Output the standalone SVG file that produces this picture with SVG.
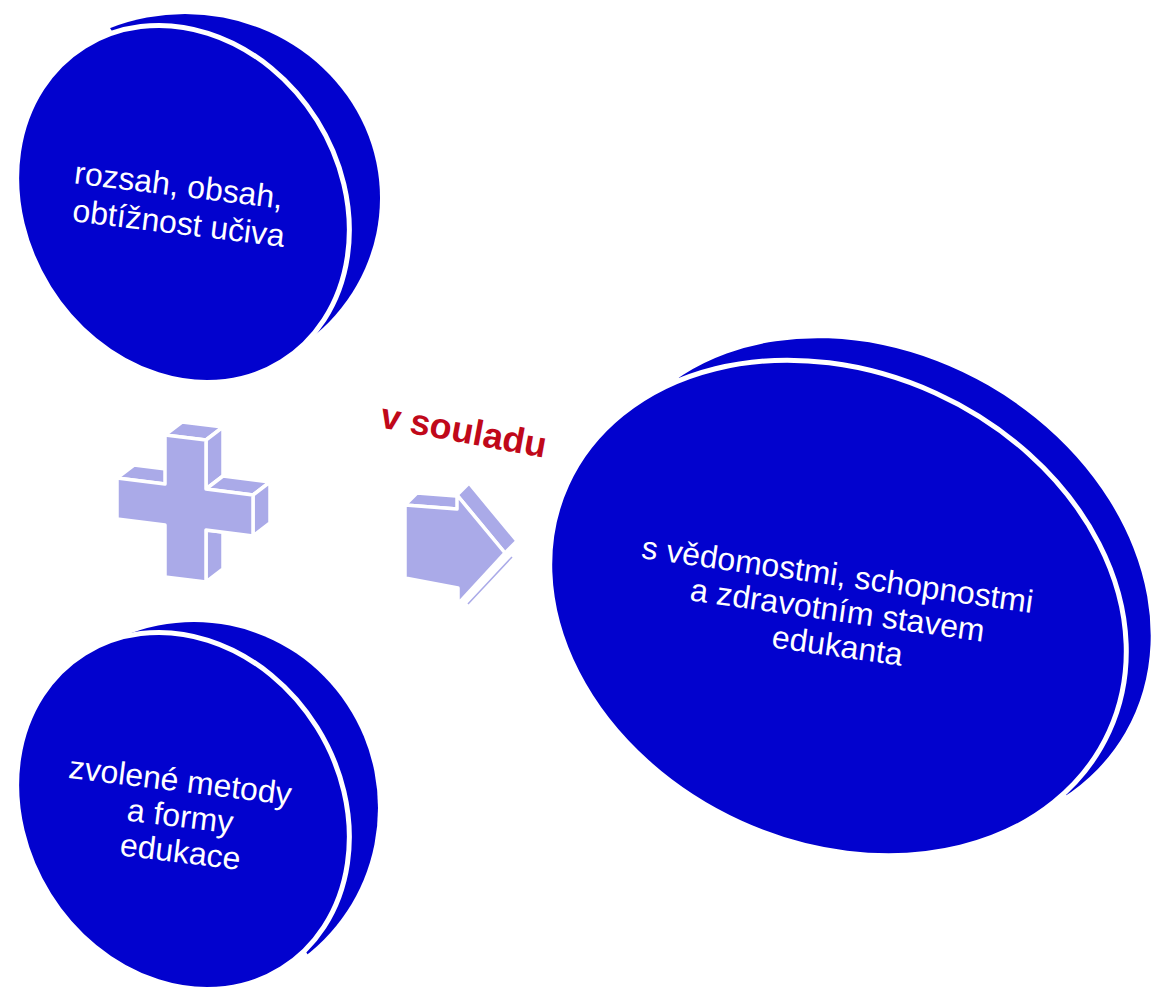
<svg xmlns="http://www.w3.org/2000/svg" width="1158" height="990" viewBox="0 0 1158 990">
  <defs>
    <clipPath id="clip-top"><polygon points="11,-129 506,656 600,656 600,-129"/></clipPath>
    <clipPath id="clip-bottom"><polygon points="11,487 506,1267 600,1267 600,400 11,400"/></clipPath>
    <clipPath id="clip-right"><polygon points="446.8,127.8 1298.2,1045.2 1400,1045.2 1400,-100 446.8,-100"/></clipPath>
  </defs>
  <style>
    .disc { fill: #0202CE; }
    .face { fill: #0202CE; stroke: #FFFFFF; stroke-width: 5; }
    .lbl { font-family: "Liberation Sans", Arial, sans-serif; font-size: 32px; fill: #FFFFFF; text-anchor: middle; }
    .sym { fill: #AAAAE8; stroke: #FFFFFF; stroke-width: 3.5; stroke-linejoin: round; }
    .red { font-family: "Liberation Sans", Arial, sans-serif; font-size: 36px; font-weight: bold; fill: #C0081A; text-anchor: middle; }
  </style>
  <rect width="1158" height="990" fill="#FFFFFF"/>

  <g id="node-top">
    <ellipse class="disc" cx="185" cy="198" rx="195" ry="184" clip-path="url(#clip-top)"/>
    <ellipse class="face" cx="183" cy="204" rx="186" ry="158" transform="rotate(58 183 204)"/>
    <text class="lbl" transform="translate(177.5,196) rotate(7)"><tspan x="0" y="0">rozsah, obsah,</tspan><tspan x="4.6" y="37.7">obtížnost učiva</tspan></text>
  </g>

  <g id="node-bottom">
    <ellipse class="disc" cx="194" cy="808" rx="184" ry="186" clip-path="url(#clip-bottom)"/>
    <ellipse class="face" cx="183" cy="811" rx="186" ry="158" transform="rotate(58 183 811)"/>
    <text class="lbl" transform="translate(179,791.5) rotate(7)"><tspan x="0" y="0">zvolené metody</tspan><tspan x="4.3" y="35.2">a formy</tspan><tspan x="8.7" y="70.5">edukace</tspan></text>
  </g>

  <g id="node-right">
    <g clip-path="url(#clip-right)">
      <ellipse class="disc" cx="872.5" cy="586.5" rx="292" ry="232" transform="rotate(30 872.5 586.5)"/>
    </g>
    <ellipse class="face" cx="838" cy="608" rx="298" ry="236" transform="rotate(24.5 838 608)"/>
    <text class="lbl" transform="translate(836,585.5) rotate(8)"><tspan x="0" y="0">s vědomostmi, schopnostmi</tspan><tspan x="4.9" y="35.2">a zdravotním stavem</tspan><tspan x="9.9" y="70.3">edukanta</tspan></text>
  </g>

  <g id="plus">
    <polygon class="sym" points="117,478 165,484 182,471 134,465"/>
    <polygon class="sym" points="165,435 206,440 223,427 182,422"/>
    <polygon class="sym" points="206,440 223,427 223,476 206,489"/>
    <polygon class="sym" points="206,489 253,495 270,482 223,476"/>
    <polygon class="sym" points="253,495 270,482 270,523 253,536"/>
    <polygon class="sym" points="206,530 223,532 223,569 206,582"/>
    <polygon class="sym" points="165,435 206,440 206,489 253,495 253,536 206,530 206,582 165,577 165,525 117,519 117,478 165,484"/>
  </g>

  <g id="connectors">
    <g id="arrow">
      <polygon class="sym" points="405,505 457,509 469,497 417,493"/>
      <polygon class="sym" points="457,495 505,553 517,541 469,483"/>
      <line x1="512" y1="557" x2="468" y2="604" stroke="#AAAAE8" stroke-width="1.5"/>
      <polygon class="sym" points="405,505 457,509 457,495 505,553 458,604 458,588 405,578"/>
    </g>
    <text id="label-souladu" class="red" transform="translate(461.5,442.5) rotate(10.5)">v souladu</text>
  </g>
</svg>
